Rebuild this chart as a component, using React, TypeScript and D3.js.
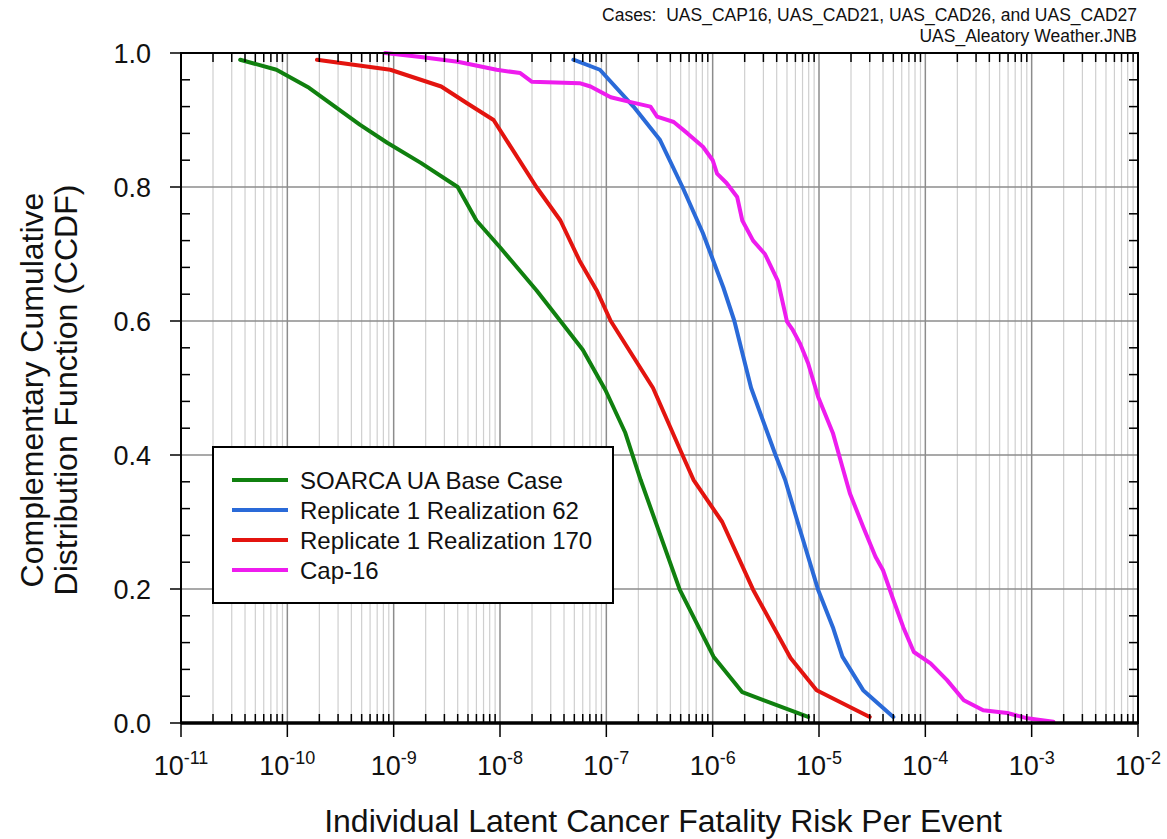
import React, { useRef, useEffect } from 'react';
import * as d3 from 'd3';

// SOARCA UA Base Case
const baseRisk = [3.6e-11, 7.9e-11, 1.6e-10, 4.8e-10, 8.7e-10, 1.8e-9, 4.0e-9, 6.0e-9, 1.0e-8, 2.2e-8, 3.7e-8, 6.0e-8, 9.8e-8, 1.5e-7, 2.1e-7, 4.9e-7, 1.02e-6, 1.9e-6, 7.9e-6];
const baseCcdf = [0.99, 0.975, 0.948, 0.893, 0.866, 0.836, 0.8, 0.75, 0.71, 0.646, 0.6, 0.557, 0.497, 0.434, 0.363, 0.199, 0.099, 0.046, 0.009];

// Replicate 1 Realization 62
const r62Risk = [4.9e-8, 8.7e-8, 1.8e-7, 3.2e-7, 5.2e-7, 8.1e-7, 1.26e-6, 1.6e-6, 2.3e-6, 3.9e-6, 4.8e-6, 6.3e-6, 9.8e-6, 1.35e-5, 1.66e-5, 2.6e-5, 5.0e-5];
const r62Ccdf = [0.99, 0.975, 0.92, 0.87, 0.8, 0.731, 0.65, 0.6, 0.5, 0.4, 0.363, 0.3, 0.199, 0.143, 0.099, 0.049, 0.009];

// Replicate 1 Realization 170
const r170Risk = [1.9e-10, 9.3e-10, 2.8e-9, 4.9e-9, 8.7e-9, 2.2e-8, 3.7e-8, 5.6e-8, 8.1e-8, 1.1e-7, 2.75e-7, 5.2e-7, 6.6e-7, 1.23e-6, 2.4e-6, 5.4e-6, 9.5e-6, 3.0e-5];
const r170Ccdf = [0.99, 0.975, 0.95, 0.925, 0.9, 0.8, 0.75, 0.69, 0.646, 0.6, 0.5, 0.4, 0.363, 0.3, 0.199, 0.097, 0.049, 0.009];

// Cap-16
const capRisk = [8.3e-10, 1.8e-9, 4.0e-9, 9.3e-9, 1.55e-8, 2.0e-8, 5.6e-8, 7.1e-8, 1.1e-7, 1.66e-7, 2.6e-7, 3.0e-7, 4.3e-7, 5.8e-7, 8.1e-7, 1.0e-6, 1.1e-6, 1.35e-6, 1.7e-6, 1.9e-6, 2.4e-6, 3.1e-6, 4.1e-6, 5.0e-6, 5.6e-6, 6.6e-6, 7.9e-6, 9.8e-6, 1.35e-5, 1.66e-5, 1.95e-5, 2.6e-5, 3.4e-5, 4.0e-5, 5.0e-5, 6.2e-5, 7.8e-5, 1.12e-4, 1.6e-4, 2.3e-4, 3.5e-4, 5.9e-4, 9.1e-4, 1.6e-3];
const capCcdf = [1.0, 0.994, 0.987, 0.975, 0.97, 0.957, 0.955, 0.95, 0.934, 0.927, 0.92, 0.905, 0.897, 0.88, 0.86, 0.84, 0.82, 0.806, 0.785, 0.75, 0.72, 0.7, 0.66, 0.599, 0.588, 0.567, 0.537, 0.487, 0.433, 0.382, 0.343, 0.293, 0.248, 0.228, 0.184, 0.143, 0.106, 0.089, 0.064, 0.034, 0.019, 0.015, 0.007, 0.002];

const seriesNames = ['SOARCA UA Base Case', 'Replicate 1 Realization 62', 'Replicate 1 Realization 170', 'Cap-16'];
const seriesColors = ['#10800f', '#2a6ad8', '#e3140f', '#ee1cee'];

const xDecades = [-11, -10, -9, -8, -7, -6, -5, -4, -3, -2];
const yTickValues = [0, 0.2, 0.4, 0.6, 0.8, 1.0];

const FONT = '"Liberation Sans", Arial, Helvetica, sans-serif';

const App: React.FC = () => {
  const svgRef = useRef<SVGSVGElement>(null);

  useEffect(() => {
    if (!svgRef.current) return;
    document.body.style.margin = '0';

    const W = 1167, H = 839;
    const margin = { top: 53, right: 29, bottom: 116, left: 181 },
      width = W - margin.left - margin.right,
      height = H - margin.top - margin.bottom;

    const root = d3.select(svgRef.current);
    root.selectAll('*').remove();
    root.attr('width', W).attr('height', H).style('font-family', FONT);

    const svg = root.append('g').attr('transform', 'translate(' + margin.left + ',' + margin.top + ')');

    const x = d3.scaleLog().domain([1e-11, 1e-2]).range([0, width]);
    const y = d3.scaleLinear().domain([0, 1]).range([height, 0]);

    const allX = x.ticks();
    const isMajor = (v: number) => Math.abs(Math.log10(v) - Math.round(Math.log10(v))) < 1e-6;
    const minorX = allX.filter((v) => !isMajor(v));
    const majorX = xDecades.map((e) => Math.pow(10, e));

    // grid
    svg.selectAll('.minorGrid').data(minorX).enter().append('line')
      .attr('x1', (d) => x(d)).attr('x2', (d) => x(d))
      .attr('y1', 0).attr('y2', height)
      .attr('stroke', '#cfcfcf').attr('stroke-width', 1.2);
    svg.selectAll('.majorGrid').data(majorX).enter().append('line')
      .attr('x1', (d) => x(d)).attr('x2', (d) => x(d))
      .attr('y1', 0).attr('y2', height)
      .attr('stroke', '#8c8c8c').attr('stroke-width', 1.5);
    svg.selectAll('.hGrid').data(yTickValues.slice(1, -1)).enter().append('line')
      .attr('x1', 0).attr('x2', width)
      .attr('y1', (d) => y(d)).attr('y2', (d) => y(d))
      .attr('stroke', '#8c8c8c').attr('stroke-width', 1.5);

    // curves
    const series = [
      { risk: baseRisk, ccdf: baseCcdf },
      { risk: r62Risk, ccdf: r62Ccdf },
      { risk: r170Risk, ccdf: r170Ccdf },
      { risk: capRisk, ccdf: capCcdf }
    ];
    const line = d3.line<[number, number]>().x((d) => x(d[0])).y((d) => y(d[1]));
    series.forEach((s, i) => {
      const pts = s.risk.map((r, j) => [r, s.ccdf[j]] as [number, number]);
      svg.append('path').datum(pts)
        .attr('d', line)
        .attr('fill', 'none')
        .attr('stroke', seriesColors[i])
        .attr('stroke-width', 4)
        .attr('stroke-linejoin', 'round')
        .attr('stroke-linecap', 'round');
    });

    // ticks
    const minorY = d3.range(0.04, 1, 0.04).filter((v) => Math.abs(v / 0.2 - Math.round(v / 0.2)) > 1e-6);
    const tickG = svg.append('g').attr('stroke', '#000').attr('stroke-width', 1.5);
    minorX.forEach((v) => {
      tickG.append('line').attr('x1', x(v)).attr('x2', x(v)).attr('y1', height).attr('y2', height - 9);
      tickG.append('line').attr('x1', x(v)).attr('x2', x(v)).attr('y1', 0).attr('y2', 9);
    });
    majorX.forEach((v) => {
      tickG.append('line').attr('x1', x(v)).attr('x2', x(v)).attr('y1', height).attr('y2', height + 14);
    });
    minorY.forEach((v) => {
      tickG.append('line').attr('x1', 0).attr('x2', 9).attr('y1', y(v)).attr('y2', y(v));
      tickG.append('line').attr('x1', width).attr('x2', width - 9).attr('y1', y(v)).attr('y2', y(v));
    });
    yTickValues.forEach((v) => {
      tickG.append('line').attr('x1', 0).attr('x2', -11).attr('y1', y(v)).attr('y2', y(v));
    });

    // frame
    svg.append('rect').attr('x', 0).attr('y', 0).attr('width', width).attr('height', height)
      .attr('fill', 'none').attr('stroke', '#000').attr('stroke-width', 2);
    svg.append('line').attr('x1', 0).attr('x2', width).attr('y1', height).attr('y2', height)
      .attr('stroke', '#000').attr('stroke-width', 3.5);

    // x tick labels
    xDecades.forEach((e) => {
      const t = svg.append('text')
        .attr('x', x(Math.pow(10, e)))
        .attr('y', height + 52)
        .attr('text-anchor', 'middle')
        .attr('font-size', 27)
        .attr('fill', '#111');
      t.append('tspan').text('10');
      t.append('tspan').attr('dy', -11).attr('font-size', 18).text(String(e));
    });

    // y tick labels
    svg.selectAll('.yLabel').data(yTickValues).enter().append('text')
      .attr('x', -30).attr('y', (d) => y(d))
      .attr('dy', '0.36em')
      .attr('text-anchor', 'end')
      .attr('font-size', 27)
      .attr('fill', '#111')
      .text((d) => d.toFixed(1));

    // axis titles
    root.append('text').attr('x', 663).attr('y', 832).attr('text-anchor', 'middle')
      .attr('font-size', 32).attr('fill', '#111')
      .text('Individual Latent Cancer Fatality Risk Per Event');
    root.append('text').attr('transform', 'translate(43,390) rotate(-90)').attr('text-anchor', 'middle')
      .attr('font-size', 32).attr('fill', '#111').text('Complementary Cumulative');
    root.append('text').attr('transform', 'translate(77,390) rotate(-90)').attr('text-anchor', 'middle')
      .attr('font-size', 32).attr('fill', '#111').text('Distribution Function (CCDF)');

    // header
    root.append('text').attr('x', 1137).attr('y', 21).attr('text-anchor', 'end')
      .attr('font-size', 17.5).attr('fill', '#111').style('white-space', 'pre')
      .text('Cases:  UAS_CAP16, UAS_CAD21, UAS_CAD26, and UAS_CAD27');
    root.append('text').attr('x', 1137).attr('y', 42).attr('text-anchor', 'end')
      .attr('font-size', 17.5).attr('fill', '#111')
      .text('UAS_Aleatory Weather.JNB');

    // legend
    const leg = root.append('g').attr('transform', 'translate(213,447)');
    leg.append('rect').attr('width', 400).attr('height', 156)
      .attr('fill', '#fff').attr('stroke', '#000').attr('stroke-width', 2);
    seriesNames.forEach((name, i) => {
      const ry = 33 + i * 30;
      leg.append('line').attr('x1', 19).attr('x2', 75).attr('y1', ry).attr('y2', ry)
        .attr('stroke', seriesColors[i]).attr('stroke-width', 4);
      leg.append('text').attr('x', 87).attr('y', ry).attr('dy', '0.36em')
        .attr('font-size', 24).attr('fill', '#111').text(name);
    });
  }, []);

  return <svg ref={svgRef} />;
};

export default App;
